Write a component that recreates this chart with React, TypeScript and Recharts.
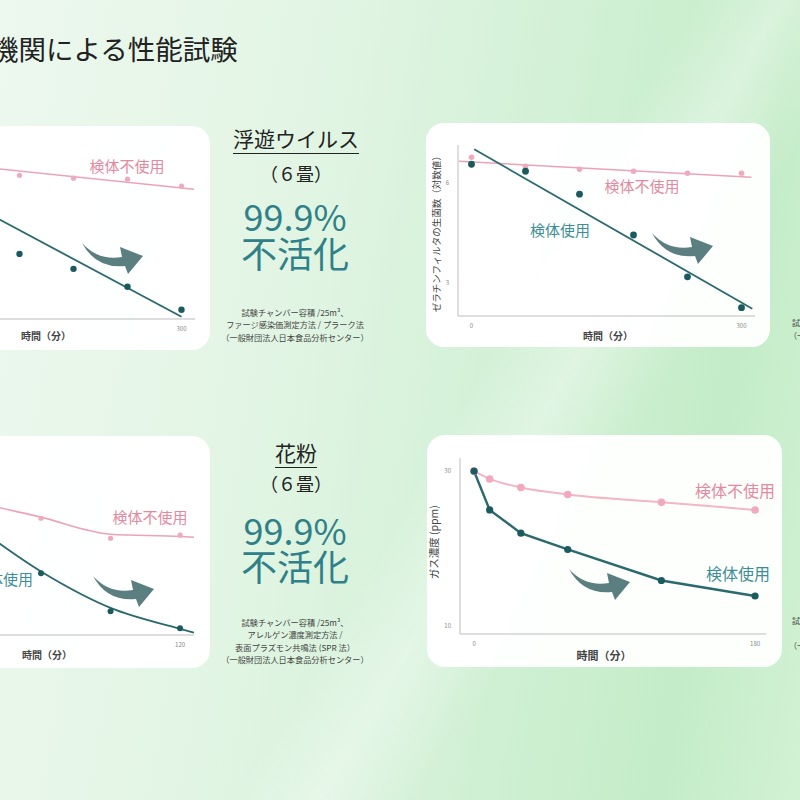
import React from "react";
import { ComposedChart, Line, XAxis, YAxis } from "recharts";

// ---- data ----
const minutesTop = [0, 60, 120, 180, 240, 300];
const virusLeftControl = [6.7, 6.5, 6.33, 6.24, 6.21, 6.0];
const virusLeftSample = [6.4, 5.0, 3.96, 3.51, 2.97, 2.28];
const virusLeftControlFitT = [0, 314];
const virusLeftControlFitV = [6.79, 5.91];
const virusLeftSampleFitT = [0, 300];
const virusLeftSampleFitV = [6.41, 2.07];

const gelatinControl = [6.78, 6.51, 6.42, 6.36, 6.3, 6.3];
const gelatinSample = [6.57, 6.36, 5.67, 4.44, 3.18, 2.25];
const gelatinControlFitT = [-14, 311];
const gelatinControlFitV = [6.66, 6.18];
const gelatinSampleFitT = [3, 312];
const gelatinSampleFitV = [7.02, 2.22];

const minutesPollen = [0, 30, 60, 90, 120];
const pollenControl = [30, 26.3, 24.06, 21.48, 21.87];
const pollenSample = [30, 23.5, 16.97, 12.06, 9.87];
const pollenFitT = [0, 30, 60, 90, 120, 126];
const pollenControlFitV = [30, 26.4, 24.2, 22.0, 21.7, 21.6];
const pollenSampleFitV = [30, 23.4, 17.2, 12.5, 9.8, 9.3];

const minutesGas = [0, 10, 30, 60, 120, 180];
const gasControl = [30, 29, 27.9, 27.0, 26.0, 25.0];
const gasSample = [30, 25, 22, 19.9, 15.9, 13.9];

const virusNotes = ["試験チャンバー容積 /25m³、", "ファージ感染価測定方法 / プラーク法", "（一般財団法人日本食品分析センター）"];
const pollenNotes = ["試験チャンバー容積 /25m³、", "アレルゲン濃度測定方法 /", "表面プラズモン共鳴法 (SPR 法）", "（一般財団法人日本食品分析センター）"];

const zip = (ts: number[], vs: number[]) => ts.map((t, i) => ({ t, v: vs[i] }));

const PINK = "#eca3b8";
const PINK_DOT = "#f0a9bd";
const PINK_TXT = "#e5899f";
const TEAL = "#2a6a6d";
const TEAL_DOT = "#1b5a5e";
const TEAL_TXT = "#3d8e96";
const BIG_TEAL = "#2f8088";
const FONT = '"Noto Sans CJK JP", "Noto Sans", sans-serif';

type LineSpec = {
  data: { t: number; v: number }[];
  color: string;
  width: number;
  curve: "linear" | "monotone";
  dotR?: number;
  dotColor?: string;
};

type PanelProps = {
  left: number;
  top: number;
  w: number;
  h: number;
  yWidth: number;
  xHeight: number;
  margin: { top: number; right: number; bottom: number; left: number };
  xDomain: [number, number];
  yDomain: [number, number];
  xTicks: number[];
  yTicks: number[];
  lines: LineSpec[];
  children?: React.ReactNode;
};

const Panel = (p: PanelProps) => (
  <div
    style={{
      position: "absolute",
      left: p.left,
      top: p.top,
      width: p.w,
      height: p.h,
      background: "rgba(255,255,255,0.96)",
      borderRadius: 18,
      fontFamily: FONT,
    }}
  >
    <ComposedChart width={p.w} height={p.h} margin={p.margin}>
      <XAxis
        type="number"
        dataKey="t"
        domain={p.xDomain}
        ticks={p.xTicks}
        allowDataOverflow
        tickLine={false}
        axisLine={{ stroke: "#bdbdbd" }}
        tick={{ fontSize: 6, fill: "#888" }}
        tickMargin={2}
        height={p.xHeight}
      />
      <YAxis
        type="number"
        dataKey="v"
        domain={p.yDomain}
        ticks={p.yTicks}
        allowDataOverflow
        tickLine={false}
        axisLine={{ stroke: "#bdbdbd" }}
        tick={{ fontSize: 6, fill: "#888" }}
        tickMargin={3}
        width={p.yWidth}
      />
      {p.lines.map((l, i) => (
        <Line
          key={i}
          data={l.data}
          dataKey="v"
          type={l.curve}
          stroke={l.width > 0 ? l.color : "none"}
          strokeWidth={l.width}
          dot={l.dotR ? { r: l.dotR, fill: l.dotColor, stroke: "none" } : false}
          activeDot={false}
          isAnimationActive={false}
        />
      ))}
    </ComposedChart>
    {p.children}
  </div>
);

const Label = ({
  x,
  y,
  size,
  color,
  text,
  weight,
  underline,
}: {
  x: number;
  y: number;
  size: number;
  color: string;
  text: string;
  weight?: number;
  underline?: boolean;
}) => (
  <div
    style={{
      position: "absolute",
      left: x - 110,
      top: y - size / 2,
      width: 220,
      height: size,
      textAlign: "center",
      fontSize: size,
      lineHeight: `${size}px`,
      color,
      fontWeight: weight ?? 400,
      whiteSpace: "nowrap",
      textDecoration: underline ? "underline" : "none",
      textDecorationThickness: 1,
      textUnderlineOffset: 6,
    }}
  >
    {text}
  </div>
);

const VLabel = ({ x, y, size, text }: { x: number; y: number; size: number; text: string }) => (
  <div
    style={{
      position: "absolute",
      left: x - 100,
      top: y - size / 2,
      width: 200,
      textAlign: "center",
      fontSize: size,
      lineHeight: 1,
      color: "#444",
      transform: "rotate(-90deg)",
      whiteSpace: "nowrap",
    }}
  >
    {text}
  </div>
);

const Arrow = ({ x, y }: { x: number; y: number }) => (
  <svg style={{ position: "absolute", left: x, top: y }} width={62} height={34} viewBox="0 0 62 34">
    <path d="M0,1 Q16,19 40,15 L38,5 L61,14 L46,32 L43,24 Q14,27 0,1 Z" fill="#5b7f81" />
  </svg>
);

// centre lines of the middle column
const MidText = ({ ys, title, notes }: { ys: number[]; title: string; notes: string[] }) => (
  <>
    <Label x={296} y={ys[0]} size={21} color="#222" text={title} underline />
    <Label x={296} y={ys[1]} size={18} color="#222" text="（６畳）" />
    <Label x={295} y={ys[2]} size={36} color={BIG_TEAL} text="99.9%" />
    <Label x={295} y={ys[3]} size={36} color={BIG_TEAL} text="不活化" />
    {notes.map((n, i) => (
      <Label key={i} x={295} y={ys[4] + i * 12.5} size={8.2} color="#444" text={n} />
    ))}
  </>
);

const topMargin = { top: 22, right: 15, bottom: 0, left: 0 };
const bottomMargin = { top: 23, right: 16, bottom: 0, left: 0 };

export default function App() {
  return (
    <div
      style={{
        position: "absolute",
        left: 0,
        top: 0,
        width: 800,
        height: 800,
        overflow: "hidden",
        fontFamily: FONT,
        background:
          "linear-gradient(120deg, rgba(255,255,255,0) 55%, rgba(255,255,255,0.35) 62%, rgba(255,255,255,0) 70%), linear-gradient(100deg, #edf8ef 0%, #e2f5e4 35%, #d0f0d4 65%, #c4ecc8 85%, #d2f2d4 100%)",
      }}
    >
      <div style={{ position: "absolute", left: -9, top: 33, fontSize: 27.5, lineHeight: "30px", color: "#222", whiteSpace: "nowrap" }}>
        機関による性能試験
      </div>

      {/* top-left: virus */}
      <Panel
        left={-134}
        top={126}
        w={344}
        h={224}
        yWidth={32}
        xHeight={31}
        margin={topMargin}
        xDomain={[-15, 315]}
        yDomain={[2, 7.15]}
        xTicks={[0, 300]}
        yTicks={[3, 6]}
        lines={[
          { data: zip(virusLeftControlFitT, virusLeftControlFitV), color: PINK, width: 1.5, curve: "linear" },
          { data: zip(virusLeftSampleFitT, virusLeftSampleFitV), color: TEAL, width: 1.8, curve: "linear" },
          { data: zip(minutesTop, virusLeftControl), color: PINK, width: 0, curve: "linear", dotR: 2.6, dotColor: PINK_DOT },
          { data: zip(minutesTop, virusLeftSample), color: TEAL, width: 0, curve: "linear", dotR: 3.2, dotColor: TEAL_DOT },
        ]}
      >
        <Label x={261} y={39} size={15} color={PINK_TXT} text="検体不使用" />
        <Arrow x={216} y={116} />
        <Label x={180} y={210} size={10} color="#444" text="時間（分）" weight={600} />
      </Panel>

      <MidText ys={[138, 173, 215, 252, 312]} title="浮遊ウイルス" notes={virusNotes} />

      {/* top-right: gelatin filter */}
      <Panel
        left={426}
        top={123}
        w={344}
        h={224}
        yWidth={32}
        xHeight={31}
        margin={topMargin}
        xDomain={[-15, 315]}
        yDomain={[2, 7.15]}
        xTicks={[0, 300]}
        yTicks={[3, 6]}
        lines={[
          { data: zip(gelatinControlFitT, gelatinControlFitV), color: PINK, width: 1.5, curve: "linear" },
          { data: zip(gelatinSampleFitT, gelatinSampleFitV), color: TEAL, width: 1.8, curve: "linear" },
          { data: zip(minutesTop, gelatinControl), color: PINK, width: 0, curve: "linear", dotR: 2.8, dotColor: PINK_DOT },
          { data: zip(minutesTop, gelatinSample), color: TEAL, width: 0, curve: "linear", dotR: 3.4, dotColor: TEAL_DOT },
        ]}
      >
        <VLabel x={11} y={109} size={9.5} text="ゼラチンフィルタの生菌数（対数値）" />
        <Label x={216} y={62} size={15} color={PINK_TXT} text="検体不使用" />
        <Label x={134} y={106} size={15} color={TEAL_TXT} text="検体使用" />
        <Arrow x={226} y={109} />
        <Label x={182} y={213} size={10} color="#444" text="時間（分）" weight={600} />
      </Panel>

      {/* bottom-left: pollen */}
      <Panel
        left={-145}
        top={436}
        w={355}
        h={232}
        yWidth={33}
        xHeight={33}
        margin={bottomMargin}
        xDomain={[-6, 126]}
        yDomain={[9, 31.7]}
        xTicks={[0, 120]}
        yTicks={[10, 30]}
        lines={[
          { data: zip(pollenFitT, pollenControlFitV), color: PINK, width: 1.6, curve: "monotone" },
          { data: zip(pollenFitT, pollenSampleFitV), color: TEAL, width: 1.8, curve: "monotone" },
          { data: zip(minutesPollen, pollenControl), color: PINK, width: 0, curve: "linear", dotR: 2.6, dotColor: PINK_DOT },
          { data: zip(minutesPollen, pollenSample), color: TEAL, width: 0, curve: "linear", dotR: 3, dotColor: TEAL_DOT },
        ]}
      >
        <Label x={295} y={80} size={15} color={PINK_TXT} text="検体不使用" />
        <Label x={148} y={142} size={15} color={TEAL_TXT} text="検体使用" />
        <Arrow x={238} y={139} />
        <Label x={192} y={219} size={10} color="#444" text="時間（分）" weight={600} />
      </Panel>

      <MidText ys={[452, 483, 529, 565, 622]} title="花粉" notes={pollenNotes} />

      {/* bottom-right: gas */}
      <Panel
        left={427}
        top={435}
        w={355}
        h={232}
        yWidth={33}
        xHeight={33}
        margin={bottomMargin}
        xDomain={[-9, 187]}
        yDomain={[9, 31.7]}
        xTicks={[0, 180]}
        yTicks={[10, 30]}
        lines={[
          { data: zip(minutesGas, gasControl), color: "#f2b6c6", width: 2, curve: "monotone", dotR: 3.8, dotColor: PINK_DOT },
          { data: zip(minutesGas, gasSample), color: TEAL, width: 2.4, curve: "linear", dotR: 3.6, dotColor: TEAL_DOT },
        ]}
      >
        <VLabel x={7} y={107} size={10.5} text="ガス濃度 (ppm)" />
        <Label x={308} y={55} size={16} color={PINK_TXT} text="検体不使用" />
        <Label x={311} y={138} size={16} color={TEAL_TXT} text="検体使用" />
        <Arrow x={142} y={133} />
        <Label x={177} y={220} size={11} color="#444" text="時間（分）" weight={600} />
      </Panel>

      {/* cut-off notes at the right edge */}
      <div style={{ position: "absolute", left: 792, top: 317, fontSize: 8, lineHeight: "12.5px", color: "#444", whiteSpace: "nowrap" }}>
        <div>試験チャンバー</div>
        <div style={{ marginLeft: -3 }}>（一般財団法人）</div>
      </div>
      <div style={{ position: "absolute", left: 792, top: 615, fontSize: 8, lineHeight: "12.5px", color: "#444", whiteSpace: "nowrap" }}>
        <div>試験チャンバー</div>
        <div>&nbsp;</div>
        <div style={{ marginLeft: -3 }}>（一般財団法人）</div>
      </div>
    </div>
  );
}
